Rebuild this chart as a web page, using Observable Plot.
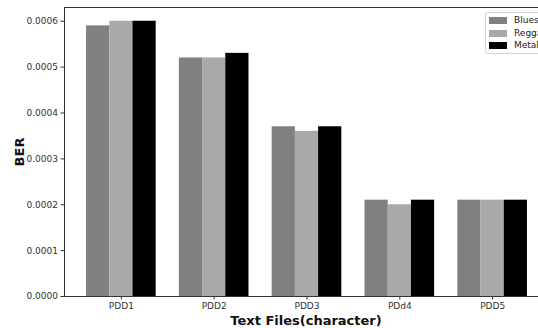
<!DOCTYPE html>
<html><head><meta charset="utf-8">
<script src="https://cdn.jsdelivr.net/npm/d3@7"></script>
<script src="https://cdn.jsdelivr.net/npm/@observablehq/plot@0.6"></script>
<style>
body{margin:0;background:#fff;overflow:hidden;}
#wrap{position:relative;width:538px;height:328px;overflow:hidden;}
#chart{position:absolute;left:0;top:0;width:552px;}
#chart svg{max-width:none !important;}
.lbl{position:absolute;font-family:"DejaVu Sans";font-weight:bold;font-size:13px;color:#111;white-space:nowrap;}
#legend{position:absolute;left:485px;top:12px;width:80px;height:40px;border:1px solid #d4d4d4;border-radius:3px;background:rgba(255,255,255,0.85);font-family:"DejaVu Sans";font-size:9px;color:#222;}
.item{position:absolute;left:3px;height:10px;line-height:10px;}
.sw{display:inline-block;width:18px;height:7px;vertical-align:middle;margin-right:7px;}
</style></head><body><div id="wrap"><div id="chart"></div></div>
<script>
const categories = ["PDD1", "PDD2", "PDD3", "PDd4", "PDD5"];
const series = ["Blues", "Reggae", "Metal"];
const blues  = [0.00059, 0.00052, 0.00037, 0.00021, 0.00021];
const reggae = [0.00060, 0.00052, 0.00036, 0.00020, 0.00021];
const metal  = [0.00060, 0.00053, 0.00037, 0.00021, 0.00021];
const colors = ["#808080", "#a9a9a9", "#000000"];
const yTicks = [0, 0.0001, 0.0002, 0.0003, 0.0004, 0.0005, 0.0006];

const values = [blues, reggae, metal];
const barW = 0.25;
const data = categories.flatMap((c, i) => series.map((s, j) => ({
  cat: c, series: s, value: values[j][i],
  x1: i + (j - 1.5) * barW, x2: i + (j - 0.5) * barW
})));

const chart = Plot.plot({
  width: 552, height: 328,
  marginTop: 7, marginBottom: 32, marginLeft: 64, marginRight: 3,
  style: {fontFamily: "DejaVu Sans", fontSize: "9px", color: "#333", background: "#fff", maxWidth: "none"},
  x: {domain: [-0.6125, 4.6125]},
  y: {domain: [0, 0.00063]},
  color: {domain: series, range: colors},
  marks: [
    Plot.rectY(data, {x1: "x1", x2: "x2", y: "value", fill: "series"}),
    Plot.frame({stroke: "#333", strokeWidth: 1}),
    Plot.axisY({ticks: yTicks, tickFormat: d3.format(".4f"), tickSize: 3.5, tickPadding: 3, label: null, stroke: "#333"}),
    Plot.axisX({ticks: d3.range(categories.length), tickFormat: i => categories[i], tickSize: 3.5, tickPadding: 3, label: null})
  ]
});
document.getElementById("chart").appendChild(chart);

const wrap = document.getElementById("wrap");
const xl = document.createElement("div");
xl.className = "lbl"; xl.textContent = "Text Files(character)";
xl.style.left = "306px"; xl.style.top = "320px"; xl.style.transform = "translate(-50%,-50%)";
wrap.appendChild(xl);
const yl = document.createElement("div");
yl.className = "lbl"; yl.textContent = "BER";
yl.style.left = "19px"; yl.style.top = "152px"; yl.style.transform = "translate(-50%,-50%) rotate(-90deg)";
wrap.appendChild(yl);

const lg = document.createElement("div");
lg.id = "legend";
series.forEach((s, j) => {
  const it = document.createElement("div");
  it.className = "item"; it.style.top = (2 + j * 12.5) + "px";
  it.innerHTML = `<span class="sw" style="background:${colors[j]}"></span>${s}`;
  lg.appendChild(it);
});
wrap.appendChild(lg);
</script></body></html>
